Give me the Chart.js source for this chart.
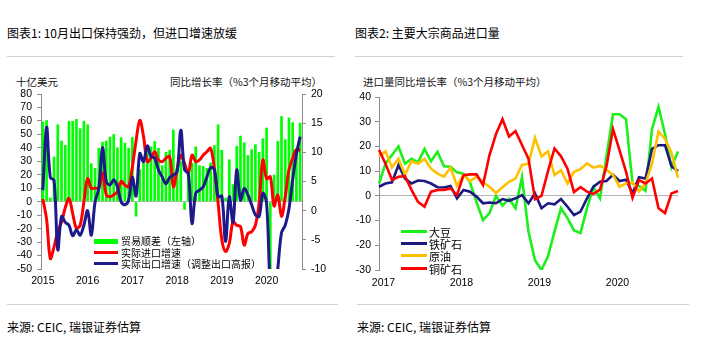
<!DOCTYPE html>
<html>
<head>
<meta charset="utf-8">
<script src="https://cdn.jsdelivr.net/npm/chart.js@4.4.1/dist/chart.umd.min.js"></script>
<style>
  body { margin:0; width:708px; height:363px; background:#fff; position:relative; overflow:hidden;
         font-family:"Noto Sans CJK SC","Noto Sans",sans-serif; color:#000; }
  .t { position:absolute; white-space:nowrap; line-height:16px; }
  .title { font-size:12px; top:25px; }
  .axt { font-size:10.5px; top:74px; color:#111; }
  .src { font-size:12px; top:319px; }
  .rule { position:absolute; height:1px; background:#d2d2d2; }
  .box { position:absolute; }
  .leg { position:absolute; white-space:nowrap; line-height:12px; }
  .sw { position:absolute; }
</style>
</head>
<body>

<div class="t title" style="left:7px">图表1: 10月出口保持强劲，但进口增速放缓</div>
<div class="t title" style="left:355px">图表2: 主要大宗商品进口量</div>
<div class="rule" style="left:7px; width:328px; top:56px"></div>
<div class="rule" style="left:355px; width:328px; top:56px"></div>

<div class="t axt" style="left:16px">十亿美元</div>
<div class="t axt" style="left:170px">同比增长率（%3个月移动平均）</div>
<div class="t axt" style="left:363px">进口量同比增长率（%3个月移动平均）</div>

<div class="box" style="left:0; top:60px; width:345px; height:232px"><canvas id="c1"></canvas></div>
<div class="box" style="left:345px; top:60px; width:355px; height:232px"><canvas id="c2"></canvas></div>

<!-- legend, chart 1 -->
<div class="sw" style="left:94px; top:239px; width:24px; height:5px; background:#00ff00"></div>
<div class="leg" style="left:121px; top:235px; font-size:10px">贸易顺差（左轴）</div>
<div class="sw" style="left:94px; top:251px; width:24px; height:3px; background:#ff0000"></div>
<div class="leg" style="left:121px; top:247px; font-size:10px">实际进口增速</div>
<div class="sw" style="left:94px; top:262px; width:24px; height:3px; background:#1e1a8c"></div>
<div class="leg" style="left:121px; top:258px; font-size:10px">实际出口增速（调整出口高报）</div>

<!-- legend, chart 2 -->
<div class="sw" style="left:401px; top:230px; width:26px; height:3px; background:#1cf01c"></div>
<div class="leg" style="left:429px; top:226px; font-size:11px">大豆</div>
<div class="sw" style="left:401px; top:242px; width:26px; height:3px; background:#1a1a80"></div>
<div class="leg" style="left:429px; top:238px; font-size:11px">铁矿石</div>
<div class="sw" style="left:401px; top:254px; width:26px; height:3px; background:#ffc000"></div>
<div class="leg" style="left:429px; top:250px; font-size:11px">原油</div>
<div class="sw" style="left:401px; top:267px; width:26px; height:3px; background:#ff0000"></div>
<div class="leg" style="left:429px; top:263px; font-size:11px">铜矿石</div>

<div class="rule" style="left:7px; width:331px; top:304px"></div>
<div class="rule" style="left:357px; width:332px; top:304px"></div>
<div class="t src" style="left:7px">来源: CEIC, 瑞银证券估算</div>
<div class="t src" style="left:357px">来源: CEIC, 瑞银证券估算</div>

<script>
// chart 1: monthly, Jan 2015 - Oct 2020
const years1 = ["2015", "2016", "2017", "2018", "2019", "2020"];
const tradeBalance = [
  59.5, 60.6, 3, 33.4, 57.4, 45.3, 42, 60, 60, 61.4, 54.5, 60,
  57.4, 28.5, 25, 40, 44.5, 45.3, 48.3, 50.2, 40.3, 47.8, 43.8, 40,
  48, -11, 24, 33, 38, 41, 45, 40, 27, 37, 38.5, 53.5,
  25, 30, -6, 23.5, 29, 41, 27, 26.5, 25, 29, 42, 57.4,
  38.4, 3, 31.4, 13, 41.3, 49, 44, 34.6, 38.9, 42.6, 37, 47,
  55, -62, 20, 45, 63.5, 46.3, 62.4, 59, 37, 58.7
];
const importGrowth = [
  2, -1.5, -8.2, -6.2, -3.5, -2, 0.5, 2.1, -0.5, -3, -2.5, 1.5,
  5.5, 3.8, 3.9, 3.8, 6.5, 2.7, 2.4, 2.7, 3.3, 5, 4.4, 4.1,
  7.5, 12, 15.5, 12.7, 8.4, 9, 10.1, 8.7, 8.4, 9, 9.3, 4.1,
  7, 9.5, 8.1, 6.4, 9.5, 8.4, 8.7, 9.5, 10.1, 10.7, 7.2, 1.3,
  -5, -7, -5.6, -1.9, -2.5, -2.7, -5.9, -3.9, -3.6, -2.5, 1.3, 8.7,
  5.5, 5.8, 0.8, 2.7, -1, 2.4, 7, 9, 10.5, 10.3
];
const exportGrowth = [
  3.5, 14.3, 5.7, 5.2, -6.7, -1, -2, -2.5, -4.3, -3.3, -4.2, -2.5,
  0, -4.2, 1.5, 3.8, 10.8, 5, 4.4, 5.3, 4.1, 1.5, 1.0, 1.8,
  5.7, 2.5, 9.8, 8.4, 11.1, 9.3, 9, 7, 5.8, 4.6, 5.7, 6.1,
  6.7, 13.8, 7, 6.4, -2.2, 3, 3.5, 4.1, 5.8, 7.4, 7, 2.4,
  2.5, -5.3, 2.4, -2, 7, 1.8, 3.8, 2.7, 1, -0.7, -1, 3,
  1.3, -13, -16, -10, -3.8, -2.5, 0.3, 5.3, 9.7, 12.7
];

// chart 2: monthly, Dec 2016 - Oct 2020
const years2 = ["2017", "2018", "2019", "2020"];
const soybean = [
  5, 13, 16.5, 20, 13, 15, 13.5, 19, 14, 17.8, 12, 11.8,
  9.5, 9, 5.5, -2.5, -9.8, -7, 0, -4, -1.2, -5, 7.5, -14.5,
  -26, -30, -24.5, -14.5, -5, -9, -14, -15, -5, 3.5, -1, 16,
  33, 33, 31, 5, 4, 2, 27, 36, 25, 11.5, 18
];
const ironOre = [
  3.7, 5, 5.5, 12.5, 7, 5, 6.2, 6, 5, 3.5, 3.4, 4,
  -1, 2.4, 1.7, -0.3, -3, -2.7, -3, -1.3, -2, -1, 0.3, -3,
  1, -5, -3, -3.4, -1.3, -4.4, -7.8, -6.4, -1, 3.7, 5.7, 6,
  8.5, 6, 6.5, 1, 7.5, 7, 19, 20.5, 20.5, 12, 10
];
const crudeOil = [
  16, 18, 11.5, 15, 8.5, 14, 13, 15, 11, 9, 7.8, 11.5,
  4, 8.4, 6, 7.7, 5.5, 3.7, 1.2, 3.5, 5.7, 7, 12.5, 13,
  23.5, 16, 18, 8.4, 10.4, 5, 9.7, 10.8, 13.1, 11.4, 12.2, 10.5,
  8.5, 3.7, 5, 5.5, 1.8, 5, 13, 26, 23, 17.5, 7.3
];
const copperOre = [
  18.6, 13, 6.4, 7.7, 8, 2.4, -2.4, -4.4, 1.7, 2.4, 2.4, 3,
  0.3, 8.4, 8.7, 8.7, 4.4, 16.5, 25, 31, 24, 26.2, 20.6, 15,
  -1.4, 0, 10, 19.2, 16, 11, 1.5, 3.5, 1.7, 0.8, 2.5, 12,
  27, 18.5, 9.8, -0.8, 6.4, 5, 7, -5, -7, 1, 2
];

function monthLabels(y, m, n) {
  const out = [];
  for (let i = 0; i < n; i++) {
    out.push(y + "-" + m);
    m++;
    if (m > 12) { m = 1; y++; }
  }
  return out;
}
const months1 = monthLabels(2015, 1, tradeBalance.length);
const months2 = monthLabels(2016, 12, soybean.length);

const tickFont = { family: "Liberation Sans", size: 10.5 };
const axisGray = "#8c8c8c";
const zeroLine = c => c.tick.value === 0 ? "#b4b4b4" : "rgba(0,0,0,0)";

new Chart(document.getElementById("c1"), {
  data: {
    labels: months1,
    datasets: [
      { type: "bar", data: tradeBalance, backgroundColor: "#00ff00", yAxisID: "y",
        order: 3, barPercentage: 0.72, categoryPercentage: 1 },
      { type: "line", data: importGrowth, borderColor: "#ff0000", borderWidth: 3,
        pointRadius: 0, tension: 0.35, yAxisID: "y1", order: 2 },
      { type: "line", data: exportGrowth, borderColor: "#1e1a8c", borderWidth: 3,
        pointRadius: 0, tension: 0.35, yAxisID: "y1", order: 1 }
    ]
  },
  options: {
    responsive: true, maintainAspectRatio: false, animation: false,
    layout: { padding: { top: 34, left: 0, right: 0, bottom: 0 } },
    plugins: { legend: { display: false }, tooltip: { enabled: false } },
    scales: {
      x: {
        grid: { display: false, drawTicks: false }, border: { display: false },
        ticks: { autoSkip: false, maxRotation: 0, padding: 6, font: tickFont, color: "#000",
                 callback: (v, i) => i % 12 === 0 ? years1[i / 12] : null },
        afterFit: s => { s.height = 23; }
      },
      y: {
        position: "left", min: -50, max: 80,
        ticks: { stepSize: 10, autoSkip: false, padding: 5, font: tickFont, color: "#000" },
        grid: { color: zeroLine, tickColor: axisGray, tickLength: 4 },
        border: { color: axisGray },
        afterFit: s => { s.width = 41; }
      },
      y1: {
        position: "right", min: -10, max: 20,
        ticks: { stepSize: 5, autoSkip: false, padding: 5, font: tickFont, color: "#000" },
        grid: { drawOnChartArea: false, tickColor: axisGray, tickLength: 4 },
        border: { color: axisGray },
        afterFit: s => { s.width = 43; }
      }
    }
  }
});

function line(data, color, order) {
  return { data, borderColor: color, borderWidth: 2.6, pointRadius: 0, tension: 0, order };
}

new Chart(document.getElementById("c2"), {
  type: "line",
  data: {
    labels: months2,
    datasets: [
      line(soybean, "#1cf01c", 4),
      line(ironOre, "#1a1a80", 3),
      line(crudeOil, "#ffc000", 2),
      line(copperOre, "#ff0000", 1)
    ]
  },
  options: {
    responsive: true, maintainAspectRatio: false, animation: false,
    layout: { padding: { top: 37, left: 0, right: 22, bottom: 0 } },
    plugins: { legend: { display: false }, tooltip: { enabled: false } },
    scales: {
      x: {
        grid: { display: false, drawTicks: false }, border: { display: false },
        ticks: { autoSkip: false, maxRotation: 0, padding: 7, labelOffset: -2, font: tickFont, color: "#000",
                 callback: (v, i) => (i - 1) % 12 === 0 ? years2[(i - 1) / 12] : null },
        afterFit: s => { s.height = 22; }
      },
      y: {
        min: -30, max: 40,
        ticks: { stepSize: 10, autoSkip: false, padding: 4, font: tickFont, color: "#000" },
        grid: { color: zeroLine, tickColor: axisGray, tickLength: 4 },
        border: { color: axisGray },
        afterFit: s => { s.width = 34; }
      }
    }
  }
});
</script>
</body>
</html>
